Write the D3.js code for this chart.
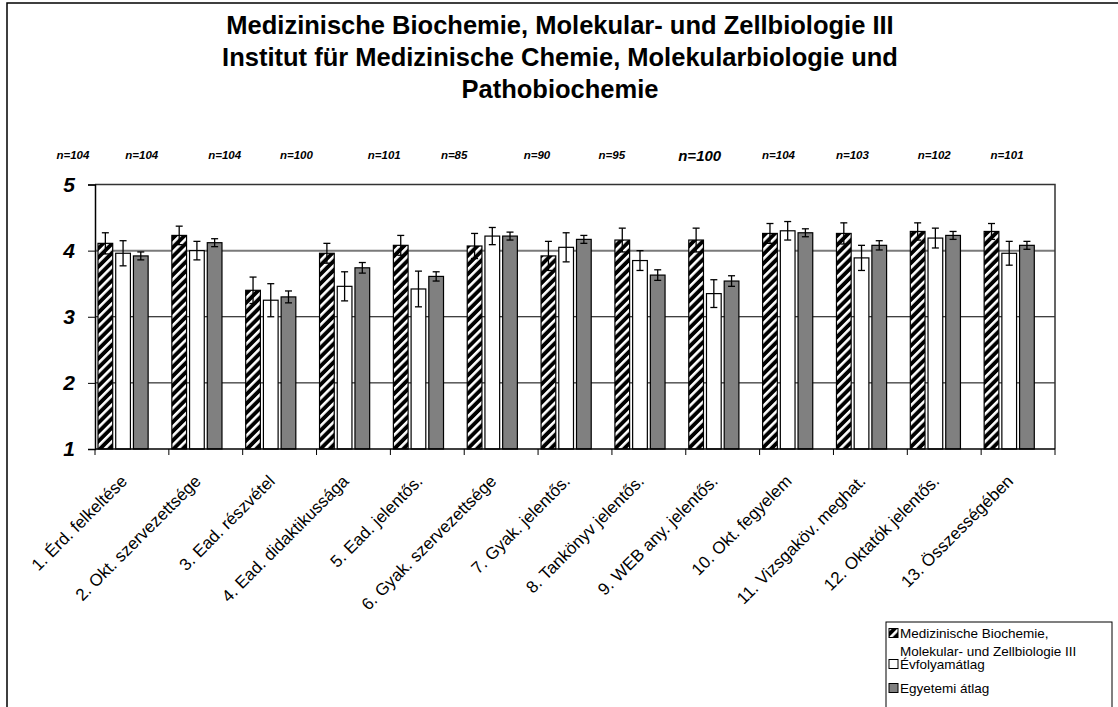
<!DOCTYPE html>
<html>
<head>
<meta charset="utf-8">
<script src="https://cdn.jsdelivr.net/npm/d3@7"></script>
<style>
  body { margin: 0; background: #fff; }
  svg { display: block; font-family: "Liberation Sans", Arial, sans-serif; }
</style>
</head>
<body>
<svg width="1118" height="707"></svg>
<script>
        // Chart data.
        const categories = [
            "1. Érd. felkeltése", "2. Okt. szervezettsége", "3. Ead. részvétel",
            "4. Ead. didaktikussága", "5. Ead. jelentős.", "6. Gyak. szervezettsége",
            "7. Gyak. jelentős.", "8. Tankönyv jelentős.", "9. WEB any. jelentős.",
            "10. Okt. fegyelem", "11. Vizsgaköv. meghat.", "12. Oktatók jelentős.",
            "13. Összességében"
        ];
        const seriesNames = [
            "Medizinische Biochemie, Molekular- und Zellbiologie III",
            "Évfolyamátlag",
            "Egyetemi átlag"
        ];
        const instituteValues = [4.11, 4.23, 3.40, 3.96, 4.08, 4.07, 3.92, 4.16, 4.16, 4.26, 4.26, 4.29, 4.29];
        const instituteErrors = [0.16, 0.14, 0.20, 0.15, 0.15, 0.19, 0.22, 0.18, 0.18, 0.15, 0.16, 0.13, 0.12];
        const yearValues = [3.96, 4.00, 3.25, 3.46, 3.42, 4.22, 4.05, 3.85, 3.35, 4.30, 3.89, 4.19, 3.96];
        const yearErrors = [0.19, 0.14, 0.25, 0.22, 0.27, 0.13, 0.22, 0.15, 0.21, 0.14, 0.19, 0.15, 0.18];
        const uniValues = [3.92, 4.12, 3.30, 3.74, 3.61, 4.22, 4.17, 3.63, 3.54, 4.27, 4.08, 4.23, 4.08];
        const uniErrors = [0.06, 0.06, 0.09, 0.08, 0.07, 0.06, 0.06, 0.08, 0.08, 0.06, 0.07, 0.06, 0.06];
        const nValues = [104, 104, 104, 100, 101, 85, 90, 95, 100, 104, 103, 102, 101];
        const yTicks = [1, 2, 3, 4, 5];

        // Layout: shift of each n label from its group centre (they sit where they were dragged).
        const nLabelDx = [-59, -64, -55, -57, -43, -47, -38, -37, -23, -18, -18, -10, -11];

        let svg = d3.select("svg");
        const margin = { left: 95, right: 63, top: 184.5, bottom: 258 };
        const width = 1118, height = 707;

        // Outer chart border (runs off the right and bottom edge).
        svg.append("rect")
            .attr("x", 7).attr("y", 3)
            .attr("width", 1130).attr("height", 720)
            .attr("fill", "none").attr("stroke", "#000").attr("stroke-width", 1.5);

        // Hatch pattern for the first series.
        const defs = svg.append("defs");
        const hatch = defs.append("pattern")
            .attr("id", "hatch")
            .attr("patternUnits", "userSpaceOnUse")
            .attr("width", 6.5).attr("height", 6.5)
            .attr("patternTransform", "rotate(45)");
        hatch.append("rect").attr("width", 6.5).attr("height", 6.5).attr("fill", "#000");
        hatch.append("rect").attr("x", 0).attr("width", 2.6).attr("height", 6.5).attr("fill", "#fff");

        const fills = ["url(#hatch)", "#fff", "#808080"];

        // Scales. The source chart has a fourth, hidden series slot.
        const x0 = d3.scaleBand()
            .domain(categories)
            .range([margin.left, width - margin.right]);
        const x1 = d3.scaleBand()
            .domain([0, 1, 2, 3])
            .range([3, x0.bandwidth() - 3])
            .paddingInner(0.17);
        const y = d3.scaleLinear()
            .domain([1, 5])
            .range([height - margin.bottom, margin.top]);

        // Title.
        const titleLines = [
            "Medizinische Biochemie, Molekular- und Zellbiologie III",
            "Institut für Medizinische Chemie, Molekularbiologie und",
            "Pathobiochemie"
        ];
        svg.append("g").selectAll("text")
            .data(titleLines)
            .enter()
            .append("text")
            .attr("x", 560)
            .attr("y", (d, i) => 34 + i * 32)
            .attr("text-anchor", "middle")
            .attr("font-size", 25.5)
            .attr("font-weight", "bold")
            .text(d => d);

        // Gridlines.
        svg.append("g").selectAll("line")
            .data([2, 3, 4])
            .enter()
            .append("line")
            .attr("x1", margin.left).attr("x2", width - margin.right)
            .attr("y1", d => y(d)).attr("y2", d => y(d))
            .attr("stroke", d => d === 4 ? "#7a7a7a" : "#000")
            .attr("stroke-width", d => d === 4 ? 2 : 1);

        // Plot area frame (top and right).
        svg.append("path")
            .attr("d", `M${margin.left},${y(5)}H${width - margin.right}V${y(1)}`)
            .attr("fill", "none").attr("stroke", "#333").attr("stroke-width", 1.5);

        // Bars.
        const seriesData = [
            { values: instituteValues, errors: instituteErrors },
            { values: yearValues, errors: yearErrors },
            { values: uniValues, errors: uniErrors }
        ];
        const barData = [];
        categories.forEach((c, i) => {
            seriesData.forEach((s, k) => {
                barData.push({ cat: c, k: k, v: s.values[i], e: s.errors[i] });
            });
        });

        svg.append("g").selectAll("rect")
            .data(barData)
            .enter()
            .append("rect")
            .attr("x", d => x0(d.cat) + x1(d.k))
            .attr("width", x1.bandwidth())
            .attr("y", d => y(d.v))
            .attr("height", d => y(1) - y(d.v))
            .attr("fill", d => fills[d.k])
            .attr("stroke", "#000")
            .attr("stroke-width", 1.2);

        // Error bars.
        const err = svg.append("g")
            .attr("stroke", "#000")
            .attr("stroke-width", 1.3)
            .selectAll("g")
            .data(barData)
            .enter()
            .append("g")
            .attr("transform", d => `translate(${x0(d.cat) + x1(d.k) + x1.bandwidth() / 2},0)`);
        err.append("line")
            .attr("y1", d => y(d.v + d.e)).attr("y2", d => y(d.v - d.e));
        err.append("line")
            .attr("x1", -3.5).attr("x2", 3.5)
            .attr("y1", d => y(d.v + d.e)).attr("y2", d => y(d.v + d.e));
        err.append("line")
            .attr("x1", -3.5).attr("x2", 3.5)
            .attr("y1", d => y(d.v - d.e)).attr("y2", d => y(d.v - d.e));

        // Y axis.
        const yAxis = svg.append("g")
            .attr("transform", `translate(${margin.left},0)`)
            .call(d3.axisLeft(y).tickValues(yTicks).tickSize(7).tickPadding(13).tickFormat(d3.format("d")));
        yAxis.select(".domain").attr("stroke", "#000").attr("stroke-width", 1.5);
        yAxis.selectAll("text")
            .attr("font-family", "Liberation Sans, Arial, sans-serif")
            .attr("font-size", 21)
            .attr("font-weight", "bold")
            .attr("font-style", "italic")
            .attr("fill", "#000");

        // X axis: ticks on category boundaries.
        const xAxisG = svg.append("g").attr("transform", `translate(0,${y(1)})`);
        xAxisG.append("line")
            .attr("x1", margin.left).attr("x2", width - margin.right)
            .attr("stroke", "#000").attr("stroke-width", 1.5);
        xAxisG.selectAll(".tick")
            .data(categories.map(c => x0(c)).concat([width - margin.right]))
            .enter()
            .append("line")
            .attr("x1", d => d).attr("x2", d => d)
            .attr("y1", 0).attr("y2", 6)
            .attr("stroke", "#000");
        xAxisG.selectAll("text")
            .data(categories)
            .enter()
            .append("text")
            .attr("transform", d => `translate(${x0(d) + x0.bandwidth() / 2 - 8},${29}) rotate(-45)`)
            .attr("text-anchor", "end")
            .attr("dy", "0.35em")
            .attr("font-size", 17)
            .text(d => d);

        // n labels.
        svg.append("g").selectAll("text")
            .data(nValues)
            .enter()
            .append("text")
            .attr("x", (d, i) => x0(categories[i]) + x0.bandwidth() / 2 + nLabelDx[i])
            .attr("y", (d, i) => i === 8 ? 161 : 159)
            .attr("text-anchor", "middle")
            .attr("font-size", (d, i) => i === 8 ? 15 : 11.5)
            .attr("font-weight", "bold")
            .attr("font-style", "italic")
            .text(d => "n=" + d);

        // Legend.
        const legend = svg.append("g");
        legend.append("rect")
            .attr("x", 886).attr("y", 622)
            .attr("width", 226).attr("height", 100)
            .attr("fill", "#fff").attr("stroke", "#000").attr("stroke-width", 1);
        const legendRows = [
            { k: 0, y: 633, lines: ["Medizinische Biochemie,", "Molekular- und Zellbiologie III"] },
            { k: 1, y: 664, lines: [seriesNames[1]] },
            { k: 2, y: 688, lines: [seriesNames[2]] }
        ];
        legendRows.forEach(r => {
            legend.append("rect")
                .attr("x", 889).attr("y", r.y - 4.5)
                .attr("width", 9).attr("height", 9)
                .attr("fill", fills[r.k]).attr("stroke", "#000");
            r.lines.forEach((t, j) => {
                legend.append("text")
                    .attr("x", 900)
                    .attr("y", r.y + j * 18)
                    .attr("dy", "0.35em")
                    .attr("font-size", 13.5)
                    .text(t);
            });
        });
</script>
</body>
</html>
